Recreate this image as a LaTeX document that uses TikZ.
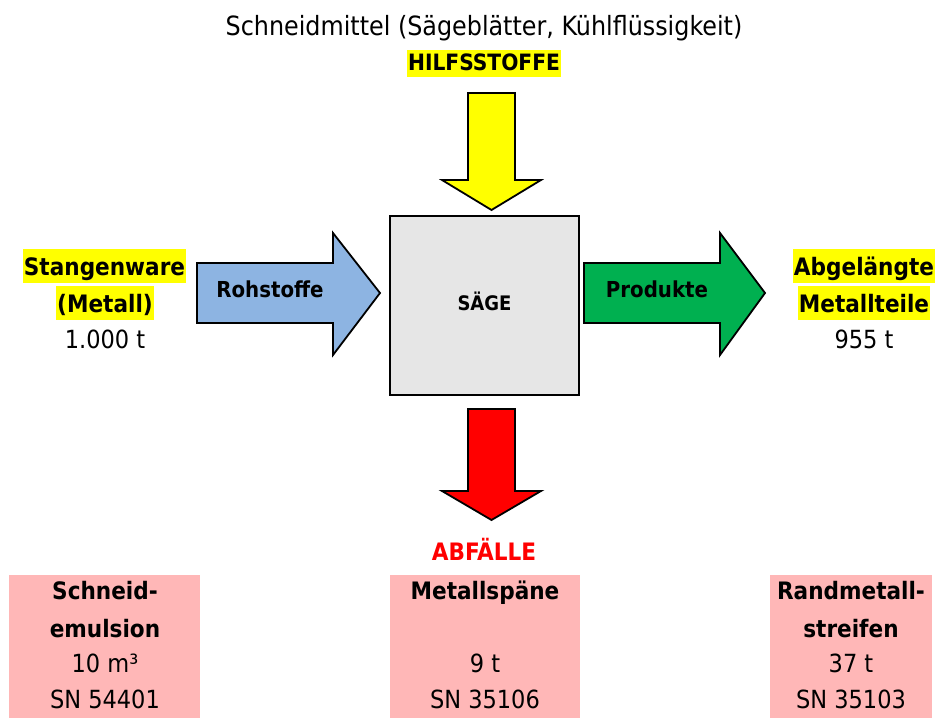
\documentclass[tikz,border=0pt]{standalone}
\usepackage{fontspec}
\setmainfont{DejaVu Sans Condensed}
\definecolor{hl}{HTML}{FFFF00}
\definecolor{blu}{HTML}{8DB4E2}
\definecolor{grn}{HTML}{00B050}
\definecolor{box}{HTML}{E6E6E6}
\definecolor{pnk}{HTML}{FFB7B7}
\tikzset{
  txt/.style={inner sep=0pt, anchor=base, font=\fontsize{25}{29}\selectfont},
  btxt/.style={txt, font=\fontsize{24}{29}\selectfont\bfseries},
  hlt/.style={btxt, fill=hl, inner xsep=1pt, inner ysep=0pt, text height=26pt, text depth=8pt},
  arrowshape/.style={draw=black, line width=1.8pt, line join=miter},
  pinkbox/.style={fill=pnk, draw=none},
  arrowlabel/.style={btxt, font=\fontsize{22}{26}\selectfont\bfseries},
}
\begin{document}
\begin{tikzpicture}[x=1pt,y=-1pt]
\useasboundingbox (0,0) rectangle (949,718);
% top text
\node[txt, font=\fontsize{26.5}{30}\selectfont] (schneidmittel) at (484,35) {Schneidmittel (Sägeblätter, Kühlflüssigkeit)};
\node[hlt, font=\fontsize{22.5}{26}\selectfont\bfseries, text height=20pt, text depth=7pt] (hilfs) at (484,70) {HILFSSTOFFE};
% yellow arrow
\draw[arrowshape, fill=hl] (468,93) -- (515,93) -- (515,180) -- (541,180) -- (491.5,210) -- (442,180) -- (468,180) -- cycle;
% box
\node[draw=black, line width=2.8pt, fill=box, minimum width=189pt, minimum height=179pt, inner sep=0pt] (saege) at (484.5,305.5) {};
\node[btxt, font=\fontsize{20}{24}\selectfont\bfseries] (saegetxt) at (484.5,310) {SÄGE};
% blue arrow
\draw[arrowshape, fill=blu] (197,263) -- (333,263) -- (333,233) -- (380,293) -- (333,355) -- (333,323) -- (197,323) -- cycle;
\node[arrowlabel] (roh) at (270,297) {Rohstoffe};
% green arrow
\draw[arrowshape, fill=grn] (584,263) -- (720,263) -- (720,233) -- (765,293) -- (720,355) -- (720,323) -- (584,323) -- cycle;
\node[arrowlabel] (prod) at (657,297) {Produkte};
% red arrow
\draw[arrowshape, fill=red] (468,409) -- (515,409) -- (515,491) -- (541,491) -- (491.5,520) -- (442,491) -- (468,491) -- cycle;
\node[btxt, text=red] (abf) at (484,560) {ABFÄLLE};
% left labels
\node[hlt] (stange) at (104.5,275) {Stangenware};
\node[hlt] (metall) at (105,312) {(Metall)};
\node[txt] (tonnen) at (105,348) {1.000 t};
% right labels
\node[hlt] (abgel) at (864,275) {Abgelängte};
\node[hlt] (mteile) at (864,312) {Metallteile};
\node[txt] (t955) at (864,348) {955 t};
% bottom boxes
\fill[pinkbox] (9,575) rectangle (200,718);
\fill[pinkbox] (390,575) rectangle (580,718);
\fill[pinkbox] (770,575) rectangle (932,718);
\node[btxt] (b1a) at (105,599) {Schneid-};
\node[btxt] (b1b) at (105,637) {emulsion};
\node[txt] (b1c) at (105,672) {10 m³};
\node[txt] (b1d) at (105,708) {SN 54401};
\node[btxt] (b2a) at (485,599) {Metallspäne};
\node[txt] (b2c) at (485,672) {9 t};
\node[txt] (b2d) at (485,708) {SN 35106};
\node[btxt] (b3a) at (851,599) {Randmetall-};
\node[btxt] (b3b) at (851,637) {streifen};
\node[txt] (b3c) at (851,672) {37 t};
\node[txt] (b3d) at (851,708) {SN 35103};
\end{tikzpicture}
\end{document}
